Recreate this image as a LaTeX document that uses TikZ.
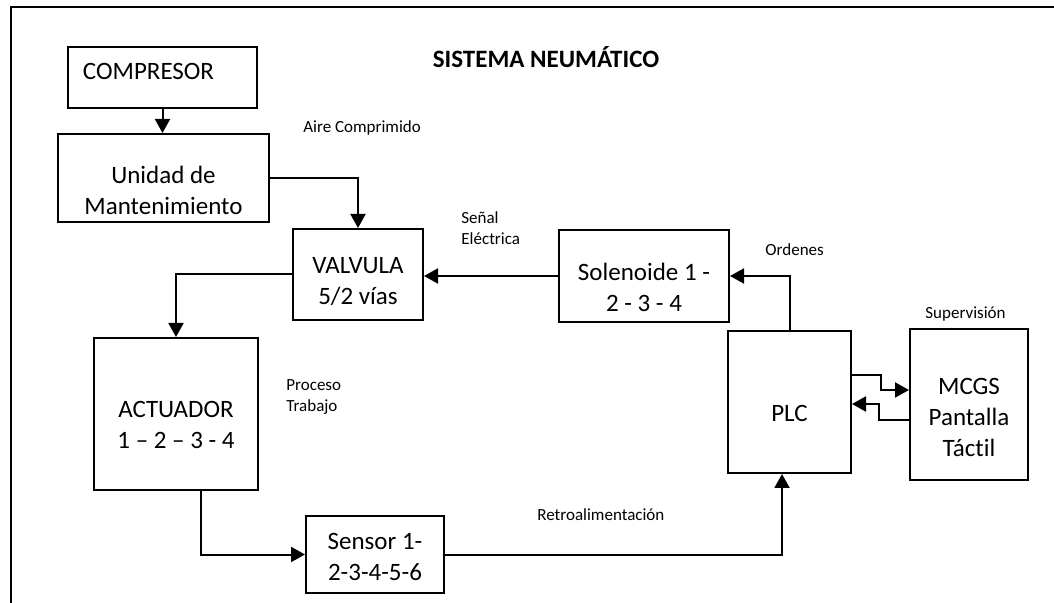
\documentclass[tikz,border=0pt]{standalone}
\usepackage{fontspec}
\setmainfont{Carlito}[Ligatures={TeX,NoCommon}]
\usetikzlibrary{arrows.meta, positioning}
\tikzset{
  box/.style={draw=black, line width=1pt, inner sep=0pt},
  boxtext/.style={align=center, font=\fontsize{12.5}{15.5}\selectfont},
  note/.style={anchor=west, align=left, inner sep=0pt, font=\fontsize{8.5}{10.5}\selectfont},
  flow/.style={-{Triangle[length=7pt,width=7.5pt]}, line width=1pt},
  frame/.style={line width=1pt}
}

\begin{document}
\begin{tikzpicture}[x=0.5pt, y=-0.5pt]
    \useasboundingbox (0,0) rectangle (1054,603);
    \draw[frame] (11,603) |- (1054,7);

    \node[font=\fontsize{12.5}{15}\selectfont\bfseries] (title) at (546,57) {SISTEMA NEUM\'ATICO};

    % bloques
    \node[box, minimum width=94.5pt, minimum height=30.5pt,
      label={[boxtext, xshift=-7pt, yshift=3pt]center:COMPRESOR}] (comp) at (162.5,77.5) {};
    \node[box, minimum width=105.5pt, minimum height=44pt,
      label={[boxtext, yshift=-6pt]center:{Unidad de\\Mantenimiento}}] (unidad) at (163.5,178) {};
    \node[box, minimum width=65pt, minimum height=45.5pt,
      label={[boxtext, yshift=-3.5pt]center:{VALVULA\\5/2 vías}}] (valv) at (358,274.5) {};
    \node[box, minimum width=85pt, minimum height=46pt,
      label={[boxtext, yshift=-5.5pt]center:{Solenoide 1 -\\2 - 3 - 4}}] (sol) at (644,276) {};
    \node[box, minimum width=82pt, minimum height=76pt,
      label={[boxtext, yshift=-5.5pt]center:{ACTUADOR\\1 – 2 – 3 - 4}}] (act) at (176,414) {};
    \node[box, minimum width=69pt, minimum height=38.5pt,
      label={[boxtext, yshift=-1pt]center:{Sensor 1-\\2-3-4-5-6}}] (sens) at (375,554.5) {};
    \node[box, minimum width=61.5pt, minimum height=71pt,
      label={[boxtext, yshift=-5.5pt]center:PLC}] (plc) at (789.5,402) {};
    \node[box, minimum width=59pt, minimum height=75.5pt,
      label={[boxtext, yshift=-6.5pt]center:{MCGS\\Pantalla\\Táctil}}] (mcgs) at (969,404.5) {};

    % etiquetas
    \node[note] (aire) at (303,128) {Aire Comprimido};
    \node[note] (senal) at (461,228.5) {Señal\\Eléctrica};
    \node[note] (ordenes) at (765,250) {Ordenes};
    \node[note] (superv) at (925,314) {Supervisión};
    \node[note] (proceso) at (286,397) {Proceso\\Trabajo};
    \node[note] (retro) at (537,515) {Retroalimentación};

    % conexiones
    \draw[flow] (comp.south) -- (comp.south |- unidad.north);
    \draw[flow] (unidad.east) -| (valv.north);
    \draw[flow] (sol.west) -- (valv.east |- sol.west);
    \draw[flow] (plc.north) |- (sol.east);
    \draw[flow] (valv.west) -| (act.north);
    \draw[flow] ([xshift=12.5pt]act.south) |- (sens.west);
    \draw[flow] (sens.east) -| ([xshift=-3.75pt]plc.south);
    \draw[flow] ([yshift=13.5pt]plc.east) -- ++(14.5pt,0) |- ([yshift=7.25pt]mcgs.west);
    \draw[flow] ([yshift=-7.75pt]mcgs.west) -- ++(-15pt,0) |- ([yshift=-1pt]plc.east);
\end{tikzpicture}
\end{document}
